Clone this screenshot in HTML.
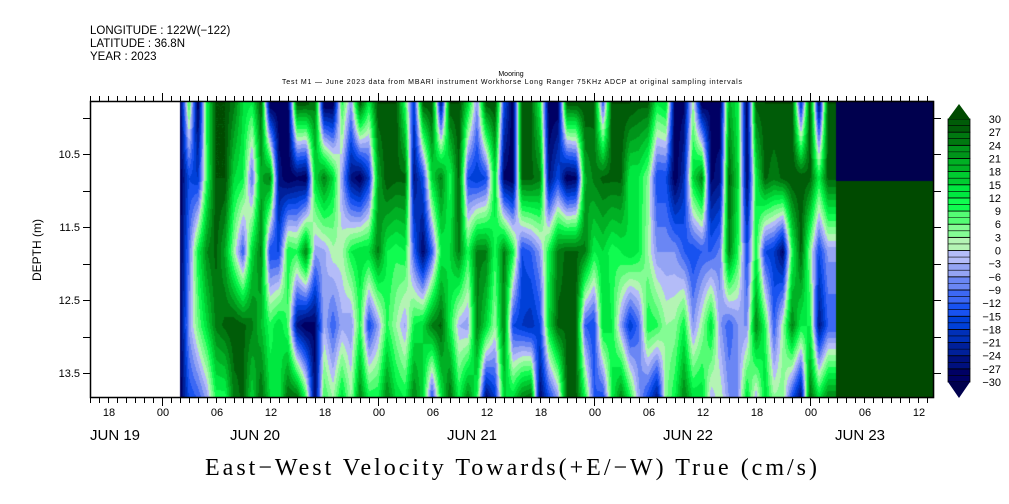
<!DOCTYPE html>
<html><head><meta charset="utf-8"><style>
html,body{margin:0;padding:0;background:#fff;width:1009px;height:504px;overflow:hidden}
#wrap{position:relative;width:1009px;height:504px}
canvas,svg{position:absolute;left:0;top:0}
</style></head><body>
<div id="wrap">
<canvas id="cv" width="1009" height="504"></canvas>
<svg id="sv" width="1009" height="504" font-family="Liberation Sans, sans-serif">
<text x="90" y="34" font-size="11.5">LONGITUDE : 122W(−122)</text>
<text x="90" y="47" font-size="11.5">LATITUDE : 36.8N</text>
<text x="90" y="60" font-size="11.5">YEAR : 2023</text>
<text x="511" y="76" font-size="7" text-anchor="middle">Mooring</text>
<text x="512" y="84" font-size="7" text-anchor="middle" textLength="460">Test M1 — June 2023 data from MBARI instrument Workhorse Long Ranger 75KHz ADCP at original sampling intervals</text>
<text x="41" y="250" font-size="12" text-anchor="middle" transform="rotate(-90 41 250)">DEPTH (m)</text>
<text x="511" y="475" font-size="24" font-family="Liberation Serif, serif" text-anchor="middle" textLength="612">East−West Velocity Towards(+E/−W) True (cm/s)</text>
<g id="axes"></g>
</svg>
</div>
<script>
// ---- data ----
const depths = [9.82, 10.83, 11.84, 12.85, 13.86];
const hours = []; for (let h = 2; h <= 74; h++) hours.push(h); // hours after Jun 20 00:00
const velocity = [
[-30,-30,-30,-30,-30],[10,-15,-9,-5,-15],[-30,-18,12,6,-12],[12,10,24,15,-5],[30,30,28,25,10],
[30,30,20,28,10],[25,15,3,30,25],[15,12,-12,28,28],[12,-10,15,25,15],[28,20,25,18,28],
[-30,25,-15,10,15],[-30,-25,-15,15,12],[-30,-30,12,8,28],[28,-28,10,-25,28],[28,-30,25,-30,10],
[25,15,-5,-28,-28],[-30,25,-4,-3,10],[-30,15,2,-12,3],[10,-5,2,-4,15],[-6,-25,12,-6,3],
[28,-30,15,10,25],[12,-18,15,-15,12],[30,20,25,-5,12],[30,30,12,10,25],[30,28,10,3,15],
[10,28,12,-4,12],[-18,-25,-12,12,25],[28,-15,-28,15,15],[30,15,-12,25,-15],[-25,25,12,28,12],
[30,10,15,12,28],[30,28,25,-3,12],[15,-15,10,-5,25],[-6,-18,25,25,10],[28,-15,25,15,-28],
[30,15,10,3,-18],[-15,-28,25,25,15],[-30,-30,12,-15,15],[30,28,-15,-18,25],[28,28,-12,-20,28],
[12,25,-5,-15,-28],[-30,-25,12,15,-15],[-30,-15,25,28,-6],[28,-30,28,28,28],[28,-28,28,28,28],
[30,20,25,-12,12],[28,25,12,-15,-12],[-12,28,15,15,-15],[30,28,10,12,12],[30,28,12,-5,25],
[30,12,15,-18,12],[28,12,12,-10,-5],[28,5,3,12,-15],[12,-15,-6,10,-25],[15,-15,-6,3,5],
[-30,-30,-6,4,12],[-28,-20,-12,12,25],[4,15,-15,-6,15],[-30,25,-12,3,15],[-28,-28,-12,15,-3],
[-30,-25,-8,-5,3],[20,28,25,-12,-6],[12,15,10,-6,-6],[-30,-28,-15,-6,15],[28,12,12,25,-4],
[30,28,-15,10,15],[30,25,-18,-12,4],[30,28,-28,3,5],[30,30,10,25,-15],[-20,30,28,12,-28],
[30,28,4,12,28],[-28,12,-15,-25,15],[30,28,-5,-12,25]
];
const tailStart = 74.9, tailEnd = 85.8, tailSplitDepth = 10.87;
const tailValues = [-35, 35];
const cbLevels = [-30,-27,-24,-21,-18,-15,-12,-9,-6,-3,0,3,6,9,12,15,18,21,24,27,30];
const hourLabels = ['18','00','06','12'];
const dateLabels = [['JUN 19',90],['JUN 20',230],['JUN 21',447],['JUN 22',663],['JUN 23',835]];
const depthTicks = [10,10.5,11,11.5,12,12.5,13,13.5];
const depthLabels = [10.5,11.5,12.5,13.5];
// ---- axes ----
const PL=90, PR=934, PT=101, PB=398;
const xOf = h => 162 + 9*h;               // hours from Jun20 00
const yOf = d => 154 + (d-10.5)*73;
const colors = ['#00004e','#000064','#00107e','#00209a','#0030b8','#0040d8','#1852f0','#3c68f4','#6a86f4','#94a4f4','#b4bcf8',
'#b4f4b4','#84fc94','#54fc74','#10fc50','#00e840','#00cc30','#00b024','#00941a','#007810','#005c08','#004a00'];
function colorFor(v){ let i=0; while(i<cbLevels.length && v>=cbLevels[i]) i++; return colors[i]; }
const cv=document.getElementById('cv'), ctx=cv.getContext('2d');
const img=ctx.createImageData(PR-PL, PB-PT);
function hex(c){return [parseInt(c.substr(1,2),16),parseInt(c.substr(3,2),16),parseInt(c.substr(5,2),16)];}
const rgb=colors.map(hex);
function idx(v){ let i=0; while(i<cbLevels.length && v>=cbLevels[i]) i++; return i; }
for(let py=PT;py<PB;py++){
  const d = 10.5 + (py+0.5-154)/73;
  let r = 0; while(r<depths.length-2 && d>depths[r+1]) r++;
  let fy = (d-depths[r])/(depths[r+1]-depths[r]); fy=Math.max(0,Math.min(1,fy));
  for(let px=PL;px<PR;px++){
    const h=(px+0.5-162)/9;
    let col=null;
    if(h>=tailStart && h<=tailEnd){ col = rgb[idx(d<tailSplitDepth?tailValues[0]:tailValues[1])]; }
    else if(h>=hours[0] && h<=hours[hours.length-1]+0.9){
      let c=Math.min(Math.floor(h-hours[0]),hours.length-2);
      let fx=Math.min(1,(h-hours[c])/(hours[c+1]-hours[c]));
      const v=(1-fx)*(1-fy)*velocity[c][r]+fx*(1-fy)*velocity[c+1][r]+(1-fx)*fy*velocity[c][r+1]+fx*fy*velocity[c+1][r+1];
      col=rgb[idx(v)];
    }
    if(col){const o=((py-PT)*(PR-PL)+(px-PL))*4; img.data[o]=col[0];img.data[o+1]=col[1];img.data[o+2]=col[2];img.data[o+3]=255;}
  }
}
ctx.putImageData(img,PL,PT);
// ---- svg axes ----
const NS='http://www.w3.org/2000/svg', g=document.getElementById('axes');
function el(t,a,p){const e=document.createElementNS(NS,t);for(const k in a)e.setAttribute(k,a[k]);(p||g).appendChild(e);return e;}
const frame=el('rect',{x:PL+0.5,y:PT+0.5,width:PR-PL-1,height:PB-PT-1,fill:'none',stroke:'#000','stroke-width':1.5});


for(let h=-8;h<=85;h++){
  const x=xOf(h)+0.5, big=((h%24)+24)%24===0, len=big?8:5;
  const t1=el('line',{x1:x,x2:x,y1:PT,y2:PT-len,stroke:'#000'});
  
  
  const t2=el('line',{x1:x,x2:x,y1:PB,y2:PB+len,stroke:'#000'});
  
  
  if(h%6===0 && h>=-6 && h<=84){
    const tx=el('text',{x:xOf(h)+1,y:416,'font-size':11,'text-anchor':'middle'});
    tx.textContent=hourLabels[(((h/6)%4)+4+1)%4];
    
    
  }
}
dateLabels.forEach(dl=>{const t=el('text',{x:dl[1],y:440,'font-size':15});t.textContent=dl[0];
  
  });
depthTicks.forEach(d=>{const y=Math.round(yOf(d))+0.5;
  const a=el('line',{x1:PL-7,x2:PL,y1:y,y2:y,stroke:'#000'});
  
  
  const b=el('line',{x1:PR,x2:PR+7,y1:y,y2:y,stroke:'#000'});
  
  });
depthLabels.forEach(d=>{const t=el('text',{x:PL-10,y:yOf(d)+4,'font-size':11,'text-anchor':'end'});t.textContent=d.toFixed(1);
  
  });
// colorbar
const CBX=948, CBW=22, CBT=119, CBB=382, bh=(CBB-CBT)/(cbLevels.length-1);
const cb=el('g',{});


for(let i=0;i<cbLevels.length-1;i++){
  const y=CBB-(i+1)*bh;
  const r=el('rect',{x:CBX,y:y,width:CBW,height:bh,fill:colors[i+1],stroke:'#000','stroke-width':0.8},cb);
  
  
  el('line',{x1:CBX,x2:CBX+CBW,y1:y+bh/2,y2:y+bh/2,stroke:'#000','stroke-width':0.6},cb);
}
const up=el('polygon',{points:`${CBX},${CBT} ${CBX+CBW/2},${CBT-15} ${CBX+CBW},${CBT}`,fill:colors[colors.length-1]},cb);


const dn=el('polygon',{points:`${CBX},${CBB} ${CBX+CBW/2},${CBB+16} ${CBX+CBW},${CBB}`,fill:colors[0]},cb);


cbLevels.forEach((v,i)=>{const t=el('text',{x:1001,y:CBB-i*bh+4,'font-size':11,'text-anchor':'end'},cb);
  t.textContent=v<0?'−'+(-v):String(v);
  
  });
</script>
</body></html>
